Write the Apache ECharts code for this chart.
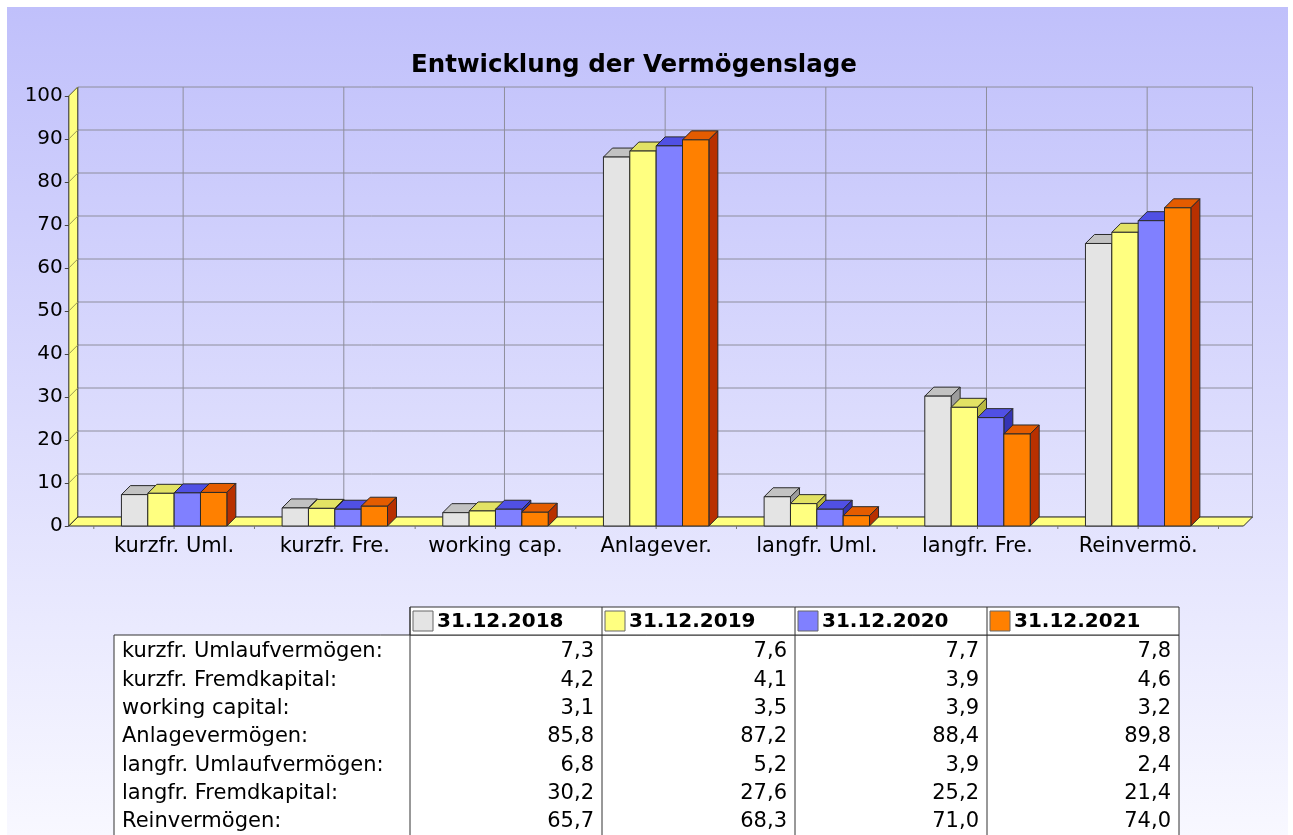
<!DOCTYPE html>
<html>
<head>
<meta charset="utf-8">
<script src="https://cdn.jsdelivr.net/npm/echarts@6/dist/echarts.min.js"></script>
<style>
html, body { margin: 0; padding: 0; background: #fff; }
#chart { width: 1293px; height: 835px; }
</style>
</head>
<body>
<div id="chart"></div>
<script>
// --- data ---
const categories = ['kurzfr. Uml.', 'kurzfr. Fre.', 'working cap.', 'Anlagever.', 'langfr. Uml.', 'langfr. Fre.', 'Reinvermö.'];
const rowLabels = ['kurzfr. Umlaufvermögen:', 'kurzfr. Fremdkapital:', 'working capital:', 'Anlagevermögen:',
    'langfr. Umlaufvermögen:', 'langfr. Fremdkapital:', 'Reinvermögen:'];
const dates = ['31.12.2018', '31.12.2019', '31.12.2020', '31.12.2021'];
const values2018 = [7.3, 4.2, 3.1, 85.8, 6.8, 30.2, 65.7];
const values2019 = [7.6, 4.1, 3.5, 87.2, 5.2, 27.6, 68.3];
const values2020 = [7.7, 3.9, 3.9, 88.4, 3.9, 25.2, 71.0];
const values2021 = [7.8, 4.6, 3.2, 89.8, 2.4, 21.4, 74.0];
const yMin = 0, yMax = 100, yStep = 10;

const seriesValues = [values2018, values2019, values2020, values2021];

// --- look ---
const FONT = 'DejaVu Sans';
const D = 9;            // 3d depth offset
const PAD = 25;         // extra space left/right of category band
const BAR_FRAC = 0.164; // bar width as part of a category
const EDGE = '#2a2a2a';
const GRID = '#8e8e9c';
const palette = [
    { front: '#e4e4e4', top: '#c2c2c2', side: '#9c9c9c' },
    { front: '#ffff80', top: '#e2e264', side: '#b8b840' },
    { front: '#8080ff', top: '#5050e4', side: '#3434b4' },
    { front: '#ff8000', top: '#e45c00', side: '#b83000' }
];

const fmt = v => v.toFixed(1).replace('.', ',');

const chart = echarts.init(document.getElementById('chart'));

function line(x1, y1, x2, y2, color) {
    return { type: 'line', shape: { x1, y1, x2, y2 }, style: { stroke: color, lineWidth: 1 } };
}

function renderFrame(params, api) {
    const cs = params.coordSys;
    const L = cs.x - PAD, R = cs.x + cs.width + PAD;
    const T = cs.y, B = cs.y + cs.height;
    const kids = [];
    for (let v = yMin; v <= yMax; v += yStep) {
        const y = api.coord([0, v])[1];
        kids.push(line(L + D, y - D, R + D, y - D, GRID));
    }
    for (let i = 0; i < categories.length; i++) {
        const x = api.coord([i, 0])[0];
        kids.push(line(x + D, T - D, x + D, B - D, GRID));
    }
    kids.push(line(R + D, T - D, R + D, B - D, GRID));
    // left wall
    kids.push({ type: 'polygon', shape: { points: [[L, B], [L, T], [L + D, T - D], [L + D, B - D]] },
        style: { fill: '#ffff80', stroke: EDGE, lineWidth: 1 } });
    for (let v = yMin + yStep; v <= yMax; v += yStep) {
        const y = api.coord([0, v])[1];
        kids.push(line(L, y, L + D, y - D, '#9a9a50'));
    }
    // floor
    kids.push({ type: 'polygon', shape: { points: [[L, B], [R, B], [R + D, B - D], [L + D, B - D]] },
        style: { fill: '#ffff80', stroke: EDGE, lineWidth: 1 } });
    for (let i = -0.5; i <= categories.length - 0.5; i += 0.5) {
        const x = api.coord([0, 0])[0] + i * api.size([1, 0])[0];
        kids.push(line(x, B, x, B + 3, '#777'));
    }
    return { type: 'group', children: kids };
}

function barRenderer(k) {
    return function (params, api) {
        const i = api.value(0), v = api.value(1);
        const base = api.coord([i, 0]);
        const top = api.coord([i, v]);
        const bw = api.size([1, 0])[0] * BAR_FRAC;
        const x0 = base[0] - 2 * bw + k * bw, x1 = x0 + bw;
        const yb = base[1], yt = top[1];
        const c = palette[k];
        return {
            type: 'group',
            children: [
                { type: 'polygon', shape: { points: [[x0, yt], [x1, yt], [x1 + D, yt - D], [x0 + D, yt - D]] },
                    style: { fill: c.top, stroke: EDGE, lineWidth: 1 } },
                { type: 'polygon', shape: { points: [[x1, yb], [x1, yt], [x1 + D, yt - D], [x1 + D, yb - D]] },
                    style: { fill: c.side, stroke: EDGE, lineWidth: 1 } },
                { type: 'rect', shape: { x: x0, y: yt, width: bw, height: yb - yt },
                    style: { fill: c.front, stroke: EDGE, lineWidth: 1 } }
            ]
        };
    };
}

// --- table below the chart ---
const colX = [410, 602, 795, 987, 1179];
const labelLeft = 114;
const headTop = 607, headBottom = 635;
const rowY0 = 652, rowStep = 28.3;
const tableBottom = 840;

const table = [];
table.push({ type: 'rect', shape: { x: labelLeft, y: headBottom, width: colX[4] - labelLeft, height: tableBottom - headBottom },
    style: { fill: '#fff', stroke: '#333', lineWidth: 1 }, z: 10 });
table.push({ type: 'rect', shape: { x: colX[0], y: headTop, width: colX[4] - colX[0], height: headBottom - headTop },
    style: { fill: '#fff', stroke: '#333', lineWidth: 1 }, z: 10 });
for (let c = 0; c < 4; c++) {
    table.push({ type: 'line', shape: { x1: colX[c], y1: headTop, x2: colX[c], y2: tableBottom },
        style: { stroke: '#333', lineWidth: 1 }, z: 11 });
}
dates.forEach((d, c) => {
    table.push({ type: 'rect', shape: { x: colX[c] + 3, y: headTop + 4, width: 20, height: 20 },
        style: { fill: palette[c].front, stroke: '#666', lineWidth: 1 }, z: 12 });
    table.push({ type: 'text', x: colX[c] + 27, y: (headTop + headBottom) / 2 + 1, z: 12,
        style: { text: d, font: 'bold 20px "' + FONT + '"', fill: '#000', verticalAlign: 'middle', align: 'left' } });
});
rowLabels.forEach((lab, r) => {
    const y = rowY0 + r * rowStep;
    table.push({ type: 'text', x: labelLeft + 8, y: y, z: 12,
        style: { text: lab, font: '21px "' + FONT + '"', fill: '#000', verticalAlign: 'middle', align: 'left' } });
    seriesValues.forEach((vals, c) => {
        table.push({ type: 'text', x: colX[c + 1] - 8, y: y, z: 12,
            style: { text: fmt(vals[r]), font: '21px "' + FONT + '"', fill: '#000', verticalAlign: 'middle', align: 'right' } });
    });
});

const option = {
    animation: false,
    backgroundColor: 'transparent',
    graphic: {
        elements: [
            { type: 'rect', z: -100, silent: true, shape: { x: 7, y: 7, width: 1281, height: 828 },
                style: { fill: new echarts.graphic.LinearGradient(0, 0, 0, 1, [
                    { offset: 0, color: '#c0c0fb' },
                    { offset: 1, color: '#f8f8ff' }
                ]) } },
            { type: 'text', x: 634, y: 66, z: 5,
                style: { text: 'Entwicklung der Vermögenslage', font: 'bold 24.5px "' + FONT + '"', fill: '#000',
                    align: 'center', verticalAlign: 'middle' } }
        ].concat(table)
    },
    grid: { left: 93.8, top: 96, width: 1124.7, height: 430, containLabel: false },
    xAxis: {
        type: 'category',
        data: categories,
        axisLine: { show: false },
        axisTick: { show: false },
        splitLine: { show: false },
        axisLabel: { color: '#000', fontFamily: FONT, fontSize: 21, margin: 10, interval: 0 }
    },
    yAxis: {
        type: 'value',
        min: yMin, max: yMax, interval: yStep,
        offset: PAD,
        axisLine: { show: false },
        axisTick: { show: true, length: 4, lineStyle: { color: '#444' } },
        splitLine: { show: false },
        axisLabel: { color: '#000', fontFamily: FONT, fontSize: 20, margin: 6 }
    },
    series: [
        { type: 'custom', z: 1, silent: true, data: [[0, 0]], renderItem: renderFrame }
    ].concat(dates.map((d, k) => ({
        type: 'custom',
        name: d,
        z: 3 + k,
        data: seriesValues[k].map((v, i) => [i, v]),
        encode: { x: 0, y: 1 },
        renderItem: barRenderer(k)
    })))
};

chart.setOption(option);
</script>
</body>
</html>
